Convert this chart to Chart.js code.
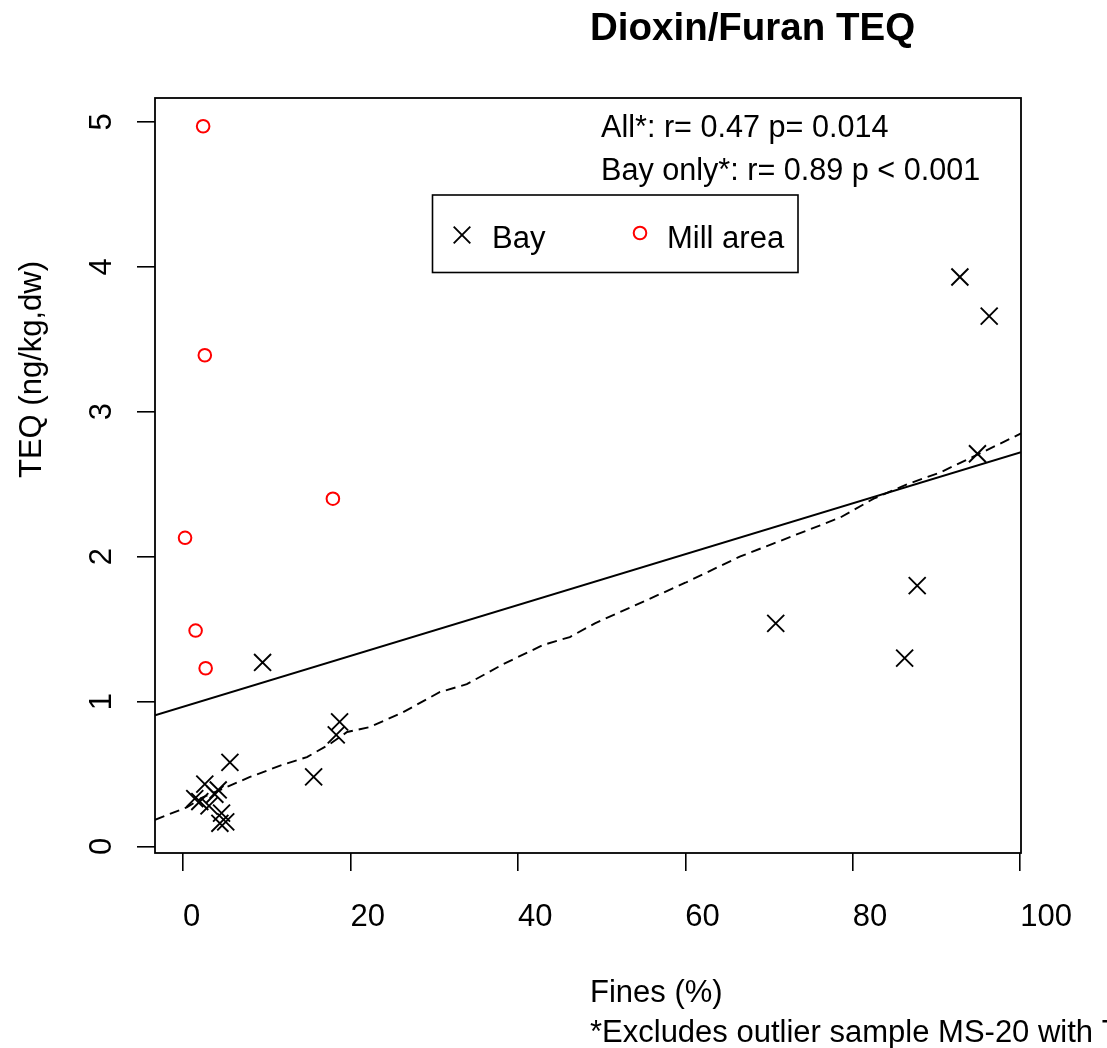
<!DOCTYPE html>
<html>
<head>
<meta charset="utf-8">
<script src="https://cdn.jsdelivr.net/npm/chart.js@4.4.1/dist/chart.umd.min.js"></script>
<style>
  html, body { margin: 0; padding: 0; background: #ffffff; }
  canvas { display: block; }
</style>
</head>
<body>
<canvas id="c" width="1107" height="1048"></canvas>
<script>
// ---- data ----
const titleText = "Dioxin/Furan TEQ";
const xTitle = "Fines (%)";
const yTitle = "TEQ (ng/kg,dw)";
const footnote = "*Excludes outlier sample MS-20 with T";
const statLines = ["All*: r= 0.47 p= 0.014", "Bay only*: r= 0.89 p < 0.001"];
const seriesNames = ["Bay", "Mill area"];

const xTicks = [0, 20, 40, 60, 80, 100];
const yTicks = [0, 1, 2, 3, 4, 5];
const xRange = [-3.35, 100.1];
const yRange = [-0.045, 5.165];

const bayFines = [92.8, 96.3, 94.9, 87.7, 70.8, 86.2, 9.5, 18.7, 18.3, 5.6, 15.6, 2.6, 4.2, 3.8, 1.4, 2.0, 3.1, 4.6, 4.4, 5.1];
const bayTEQ   = [3.93, 3.66, 2.71, 1.80, 1.54, 1.30, 1.27, 0.86, 0.77, 0.58, 0.48, 0.43, 0.39, 0.36, 0.33, 0.31, 0.28, 0.23, 0.16, 0.17];

const millFines = [2.4, 2.6, 17.9, 0.24, 1.5, 2.7];
const millTEQ   = [4.97, 3.39, 2.40, 2.13, 1.49, 1.23];

// solid fit line (all samples) – end points read at plot edges
const fitAllX = [-3.35, 100.1];
const fitAllY = [0.905, 2.72];

// dashed smooth (bay only)
const fitBayX = [-3.35, 0.44, 2.4, 5.6, 8.0, 12.0, 14.8, 17.6, 19.6, 22.3, 26.3, 30.7, 33.9, 38.3, 43.0, 46.2, 49.2, 55.0, 60.0, 66.5, 70.5, 74.5, 78.5, 82.5, 86.5, 90.4, 94.4, 100.1];
const fitBayY = [0.184, 0.27, 0.34, 0.42, 0.48, 0.566, 0.617, 0.709, 0.79, 0.824, 0.927, 1.066, 1.12, 1.26, 1.39, 1.445, 1.54, 1.69, 1.82, 2.00, 2.09, 2.18, 2.27, 2.40, 2.50, 2.58, 2.69, 2.85];

const FONT = '"Liberation Sans", Arial, Helvetica, sans-serif';
const zip = (xs, ys) => xs.map((x, i) => ({ x: x, y: ys[i] }));

const decorPlugin = {
  id: 'decor',
  afterDraw(chart) {
    const ctx = chart.ctx;
    const a = chart.chartArea;
    const xs = chart.scales.x, ys = chart.scales.y;
    ctx.save();
    // plot box
    ctx.strokeStyle = '#000';
    ctx.lineWidth = 1.8;
    ctx.strokeRect(a.left, a.top, a.right - a.left, a.bottom - a.top);

    ctx.fillStyle = '#000';
    // x tick labels
    ctx.font = '31px ' + FONT;
    ctx.textBaseline = 'alphabetic';
    ctx.textAlign = 'left';
    xTicks.forEach(v => {
      ctx.fillText(String(v), xs.getPixelForValue(v), 926);
    });
    // y tick labels (rotated)
    yTicks.forEach(v => {
      ctx.save();
      ctx.translate(111, ys.getPixelForValue(v));
      ctx.rotate(-Math.PI / 2);
      ctx.textAlign = 'center';
      ctx.fillText(String(v), 0, 0);
      ctx.restore();
    });
    // axis titles
    ctx.textAlign = 'left';
    ctx.fillText(xTitle, 590, 1002);
    ctx.fillText(footnote, 590, 1042);
    ctx.save();
    ctx.translate(41, 478);
    ctx.rotate(-Math.PI / 2);
    ctx.textAlign = 'left';
    ctx.fillText(yTitle, 0, 0);
    ctx.restore();

    // main title
    ctx.font = 'bold 38.5px ' + FONT;
    ctx.fillText(titleText, 590, 40);

    // stats text
    ctx.font = '30.6px ' + FONT;
    ctx.fillText(statLines[0], 601, 137);
    ctx.fillText(statLines[1], 601, 180);

    // legend box
    ctx.font = '31px ' + FONT;
    ctx.lineWidth = 1.6;
    ctx.strokeRect(432.5, 195, 365.5, 77.5);
    const ds0 = chart.data.datasets[0], ds1 = chart.data.datasets[1];
    // Bay symbol
    ctx.strokeStyle = ds0.borderColor;
    ctx.lineWidth = ds0.borderWidth;
    const h = 8.3;
    ctx.beginPath();
    ctx.moveTo(462 - h, 235 - h); ctx.lineTo(462 + h, 235 + h);
    ctx.moveTo(462 - h, 235 + h); ctx.lineTo(462 + h, 235 - h);
    ctx.stroke();
    ctx.fillText(seriesNames[0], 492, 248);
    // Mill symbol
    ctx.strokeStyle = ds1.borderColor;
    ctx.lineWidth = ds1.borderWidth;
    ctx.beginPath();
    ctx.arc(640, 233, ds1.pointRadius, 0, Math.PI * 2);
    ctx.stroke();
    ctx.fillText(seriesNames[1], 667, 248);
    ctx.restore();
  }
};

new Chart(document.getElementById('c'), {
  type: 'scatter',
  data: {
    datasets: [
      {
        label: seriesNames[0],
        data: zip(bayFines, bayTEQ),
        pointStyle: 'crossRot',
        pointRadius: 12,
        pointHoverRadius: 12,
        borderColor: '#000000',
        backgroundColor: '#000000',
        borderWidth: 1.9,
        showLine: false,
        order: 1
      },
      {
        label: seriesNames[1],
        data: zip(millFines, millTEQ),
        pointStyle: 'circle',
        pointRadius: 6.3,
        pointHoverRadius: 6.3,
        borderColor: '#ff0000',
        backgroundColor: 'rgba(0,0,0,0)',
        borderWidth: 2,
        showLine: false,
        order: 2
      },
      {
        label: 'fit all',
        type: 'line',
        data: zip(fitAllX, fitAllY),
        borderColor: '#000000',
        borderWidth: 2,
        pointRadius: 0,
        fill: false,
        tension: 0,
        order: 3
      },
      {
        label: 'fit bay',
        type: 'line',
        data: zip(fitBayX, fitBayY),
        borderColor: '#000000',
        borderWidth: 1.9,
        borderDash: [10, 6],
        pointRadius: 0,
        fill: false,
        tension: 0,
        order: 4
      }
    ]
  },
  options: {
    responsive: false,
    devicePixelRatio: 1,
    animation: false,
    events: [],
    layout: { padding: { top: 98, right: 86, left: 0, bottom: 0 } },
    plugins: {
      legend: { display: false },
      title: { display: false },
      tooltip: { enabled: false }
    },
    scales: {
      x: {
        type: 'linear',
        min: xRange[0],
        max: xRange[1],
        afterBuildTicks: s => { s.ticks = xTicks.map(v => ({ value: v })); },
        afterFit: s => { s.height = 195; },
        ticks: { display: false },
        grid: { drawOnChartArea: false, drawTicks: true, tickLength: 18, color: '#000', lineWidth: 1.6 },
        border: { display: false }
      },
      y: {
        type: 'linear',
        min: yRange[0],
        max: yRange[1],
        afterBuildTicks: s => { s.ticks = yTicks.map(v => ({ value: v })); },
        afterFit: s => { s.width = 155; },
        ticks: { display: false },
        grid: { drawOnChartArea: false, drawTicks: true, tickLength: 18, color: '#000', lineWidth: 1.6 },
        border: { display: false }
      }
    }
  },
  plugins: [decorPlugin]
});
</script>
</body>
</html>
